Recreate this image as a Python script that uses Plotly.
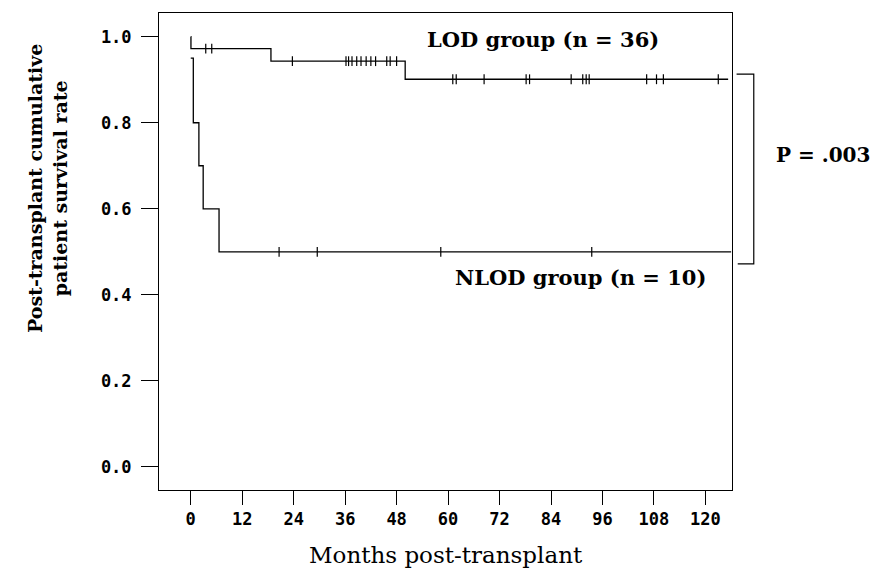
import plotly.graph_objects as go

# ---- data ----
lod_step_times = [0, 0.05, 18.7, 50.0, 125.3]
lod_step_surv = [1.0, 0.972, 0.943, 0.901, 0.901]
lod_censor_times = [3.5, 4.9, 23.7, 36.2, 36.8, 37.6, 38.7, 39.7, 40.9, 42.0, 43.1,
                    45.7, 46.5, 48.0, 61.1, 61.9, 68.4, 78.2, 79.0, 88.7, 91.4,
                    92.2, 92.9, 106.3, 108.6, 110.2, 123.0]

nlod_step_times = [0, 0.6, 1.9, 2.9, 6.6, 126.0]
nlod_step_surv = [0.95, 0.8, 0.7, 0.6, 0.5, 0.5]
nlod_censor_times = [20.6, 29.5, 58.3, 93.5]

x_ticks = [0, 12, 24, 36, 48, 60, 72, 84, 96, 108, 120]
y_ticks = [0.0, 0.2, 0.4, 0.6, 0.8, 1.0]
y_tick_text = ["0.0", "0.2", "0.4", "0.6", "0.8", "1.0"]


def surv_at(times, survs, t):
    s = survs[0]
    for tt, ss in zip(times, survs):
        if tt <= t:
            s = ss
    return s


fig = go.Figure()
for times, survs, cens in [(lod_step_times, lod_step_surv, lod_censor_times),
                           (nlod_step_times, nlod_step_surv, nlod_censor_times)]:
    fig.add_trace(go.Scatter(x=times, y=survs, mode="lines", line_shape="hv",
                             line=dict(color="black", width=1.3),
                             showlegend=False, hoverinfo="skip"))
    fig.add_trace(go.Scatter(x=cens, y=[surv_at(times, survs, t) for t in cens],
                             mode="markers",
                             marker=dict(symbol="line-ns", size=7,
                                         line=dict(color="black", width=1.2)),
                             showlegend=False, hoverinfo="skip"))

serif_bold = dict(family="DejaVu Serif", size=21, color="black", weight="bold")
tick_font = dict(family="DejaVu Sans Mono", size=17, color="black", weight="bold")

fig.update_layout(
    width=870, height=582,
    margin=dict(l=159, r=138, t=13, b=92),
    paper_bgcolor="white", plot_bgcolor="white",
    xaxis=dict(range=[-7.4, 126.2], tickvals=x_ticks, ticks="outside", ticklen=14,
               tickcolor="black", showline=True, linecolor="black", linewidth=1,
               mirror=True, showgrid=False, zeroline=False, tickfont=tick_font),
    yaxis=dict(range=[-0.0535, 1.055], tickvals=y_ticks, ticktext=y_tick_text,
               ticks="outside", ticklen=17, tickcolor="black", showline=True,
               linecolor="black", linewidth=1, mirror=True, showgrid=False,
               zeroline=False, ticklabelstandoff=6, tickfont=tick_font),
    annotations=[
        dict(text="LOD group (n = 36)", x=0.671, y=(490 - 40) / 477, xref="paper", yref="paper",
             showarrow=False, font=serif_bold, xanchor="center", yanchor="middle"),
        dict(text="NLOD group (n = 10)", x=0.735, y=(490 - 277) / 477, xref="paper", yref="paper",
             showarrow=False, font=serif_bold, xanchor="center", yanchor="middle"),
        dict(text="P = .003", x=1.073, y=0.703, xref="paper", yref="paper",
             showarrow=False, font=dict(serif_bold, size=20), xanchor="left", yanchor="middle"),
        dict(text="Post-transplant cumulative<br>patient survival rate", x=-0.1955, y=0.633,
             xref="paper", yref="paper", showarrow=False, textangle=-90,
             font=dict(family="DejaVu Serif", size=19, color="black", weight="bold"),
             xanchor="center", yanchor="middle"),
        dict(text="Months post-transplant", x=0.5, y=-0.136, xref="paper", yref="paper",
             showarrow=False, font=dict(family="DejaVu Serif", size=23, color="black"),
             xanchor="center", yanchor="middle"),
    ],
    shapes=[
        dict(type="path", xref="paper", yref="paper",
             path="M 1.008 0.872 L 1.038 0.872 L 1.038 0.474 L 1.010 0.474",
             line=dict(color="black", width=1.2)),
    ],
)

fig.write_html("out.html")
